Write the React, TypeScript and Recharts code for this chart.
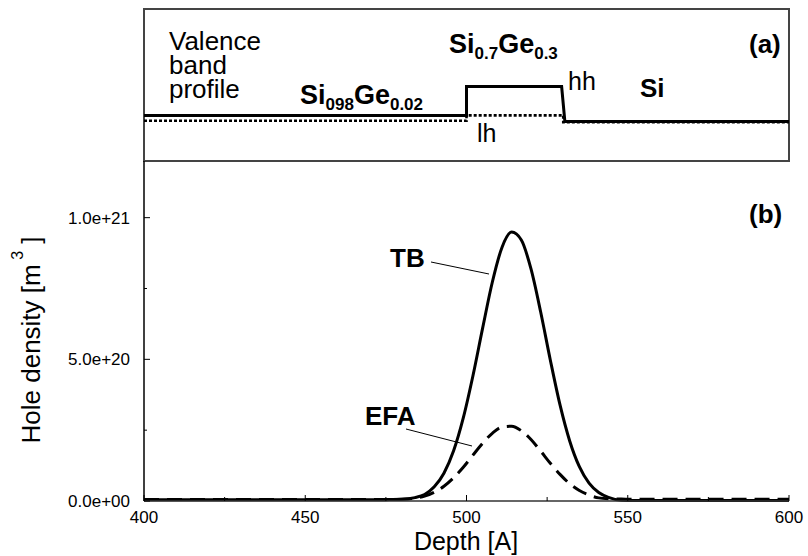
import { LineChart, Line, XAxis, YAxis, ReferenceArea } from "recharts";

// depth grid [A]
const depth = [
  400, 420, 440, 460, 470, 476, 480, 484, 487, 490, 493, 496, 499, 502, 505, 508, 511,
  514, 517, 520, 523, 526, 529, 532, 535, 538, 541, 544, 548, 552, 558, 565, 580, 600,
];
// hole density, units of 1e20 m^-3
const tbDensity = [
  0.04, 0.04, 0.04, 0.04, 0.04, 0.05, 0.06, 0.12, 0.23, 0.5, 0.98, 1.77, 2.93, 4.42, 6.1, 7.72,
  8.95, 9.49, 9.21, 8.19, 6.67, 4.97, 3.39, 2.12, 1.21, 0.63, 0.3, 0.13, 0.03, 0.02, 0.02, 0.02,
  0.02, 0.02,
];
const efaDensity = [
  0.05, 0.05, 0.05, 0.05, 0.05, 0.05, 0.06, 0.1, 0.17, 0.31, 0.52, 0.82, 1.19, 1.62, 2.04, 2.39,
  2.61, 2.64, 2.48, 2.17, 1.76, 1.33, 0.94, 0.61, 0.37, 0.21, 0.11, 0.08, 0.07, 0.06, 0.06, 0.06,
  0.06, 0.06,
];

// valence band profile (arbitrary energy units)
const hhDepth = [400, 500, 500, 529.5, 530.5, 600];
const hhEnergy = [3.0, 3.0, 4.9, 4.9, 2.6, 2.6];
const lhDepth = [400, 500, 500, 530, 530, 600];
const lhEnergy = [2.65, 2.65, 3.0, 3.0, 2.55, 2.55];

const densityTicks = [0, 2.5, 5, 7.5, 10];
const depthTicks = [400, 425, 450, 475, 500, 525, 550, 575, 600];

const densityData = depth.map((d, i) => ({ depth: d, tb: tbDensity[i], efa: efaDensity[i] }));
const hhData = hhDepth.map((d, i) => ({ depth: d, e: hhEnergy[i] }));
const lhData = lhDepth.map((d, i) => ({ depth: d, e: lhEnergy[i] }));

const FONT = "'Liberation Sans', Arial, Helvetica, sans-serif";

function sci(v: number) {
  if (v === 0) return "0.0e+00";
  const [m, e] = (v * 1e20).toExponential(1).split("e");
  const n = parseInt(e, 10);
  return `${m}e${n < 0 ? "-" : "+"}${String(Math.abs(n)).padStart(2, "0")}`;
}

function DensityTick(props: any) {
  const { x, y, payload } = props;
  const major = payload.value % 5 === 0;
  return (
    <g>
      <line x1={x} y1={y} x2={x + (major ? 6 : 3)} y2={y} stroke="#000" strokeWidth={1} />
      {major && (
        <text x={x - 14} y={y + 6} textAnchor="end" fontSize={17} fontFamily={FONT} fill="#000">
          {sci(payload.value)}
        </text>
      )}
    </g>
  );
}

function DepthTick(props: any) {
  const { x, y, payload } = props;
  const major = payload.value % 50 === 0;
  return (
    <g>
      <line x1={x} y1={y} x2={x} y2={y - (major ? 6 : 4)} stroke="#000" strokeWidth={1} />
      {major && (
        <text x={x} y={y + 22} textAnchor="middle" fontSize={17} fontFamily={FONT} fill="#000">
          {payload.value}
        </text>
      )}
    </g>
  );
}

export default function App() {
  const txt = { fontFamily: FONT, fill: "#000" };
  return (
    <div style={{ position: "absolute", left: 0, top: 0, width: 808, height: 556, background: "#fff" }}>
      <div style={{ position: "absolute", left: 0, top: 0 }}>
        <LineChart width={808} height={162} margin={{ top: 9, right: 19, left: 144, bottom: 1 }}>
          <XAxis type="number" dataKey="depth" domain={[400, 600]} hide height={0} allowDuplicatedCategory={false} />
          <YAxis type="number" domain={[0, 10]} hide width={0} />
          <ReferenceArea x1={400} x2={600} y1={0} y2={10} fill="none" stroke="#444" strokeWidth={2} />
          <Line data={lhData} dataKey="e" type="linear" stroke="#000" strokeWidth={2.6}
            strokeDasharray="3 2" dot={false} isAnimationActive={false} />
          <Line data={hhData} dataKey="e" type="linear" stroke="#000" strokeWidth={3}
            dot={false} isAnimationActive={false} />
        </LineChart>
      </div>
      <div style={{ position: "absolute", left: 0, top: 161 }}>
        <LineChart width={808} height={395} data={densityData} margin={{ top: 0, right: 19, left: 0, bottom: 0 }}>
          <XAxis type="number" dataKey="depth" domain={[400, 600]} ticks={depthTicks} interval={0}
            height={55} tickSize={0} tickMargin={0} tickLine={false} tick={<DepthTick />}
            axisLine={{ stroke: "#333", strokeWidth: 1.5 }} />
          <YAxis type="number" domain={[0, 12]} ticks={densityTicks} interval={0} width={144}
            tickSize={0} tickMargin={0} tickLine={false} tick={<DensityTick />}
            axisLine={{ stroke: "#000", strokeWidth: 1.5 }} />
          <Line dataKey="efa" type="monotone" stroke="#000" strokeWidth={3} strokeDasharray="15 8"
            dot={false} isAnimationActive={false} />
          <Line dataKey="tb" type="monotone" stroke="#000" strokeWidth={3}
            dot={false} isAnimationActive={false} />
        </LineChart>
      </div>
      <svg width={808} height={556} style={{ position: "absolute", left: 0, top: 0, pointerEvents: "none" }}>
        {/* panel (a) */}
        <text x={169} y={50} fontSize={26} {...txt}>Valence</text>
        <text x={169} y={74} fontSize={26} {...txt}>band</text>
        <text x={169} y={98} fontSize={26} {...txt}>profile</text>
        <text x={300} y={104} fontSize={27} fontWeight="bold" {...txt}>
          Si<tspan fontSize={17} dy={6}>098</tspan><tspan dy={-6}>Ge</tspan>
          <tspan fontSize={17} dy={6}>0.02</tspan>
        </text>
        <text x={449} y={53} fontSize={27} fontWeight="bold" {...txt}>
          Si<tspan fontSize={17} dy={6}>0.7</tspan><tspan dy={-6}>Ge</tspan>
          <tspan fontSize={17} dy={6}>0.3</tspan>
        </text>
        <text x={749} y={53} fontSize={26} fontWeight="bold" {...txt}>(a)</text>
        <text x={568} y={90} fontSize={25} {...txt}>hh</text>
        <text x={640} y={97} fontSize={26} fontWeight="bold" {...txt}>Si</text>
        <text x={477} y={142} fontSize={25} {...txt}>lh</text>
        {/* panel (b) */}
        <text x={749} y={223} fontSize={26} fontWeight="bold" {...txt}>(b)</text>
        <text x={390} y={267} fontSize={26} fontWeight="bold" {...txt}>TB</text>
        <line x1={431} y1={262} x2={489} y2={274} stroke="#000" strokeWidth={1} />
        <text x={365} y={425} fontSize={26} fontWeight="bold" {...txt}>EFA</text>
        <line x1={406} y1={429} x2={472} y2={446} stroke="#000" strokeWidth={1} />
        {/* axis titles */}
        <text transform="translate(40,340) rotate(-90)" textAnchor="middle" fontSize={26} {...txt}>
          Hole density [m<tspan fontSize={16} dy={-17}> 3</tspan><tspan dy={17}> ]</tspan>
        </text>
        <text x={466} y={550} textAnchor="middle" fontSize={25} {...txt}>Depth [A]</text>
      </svg>
    </div>
  );
}
